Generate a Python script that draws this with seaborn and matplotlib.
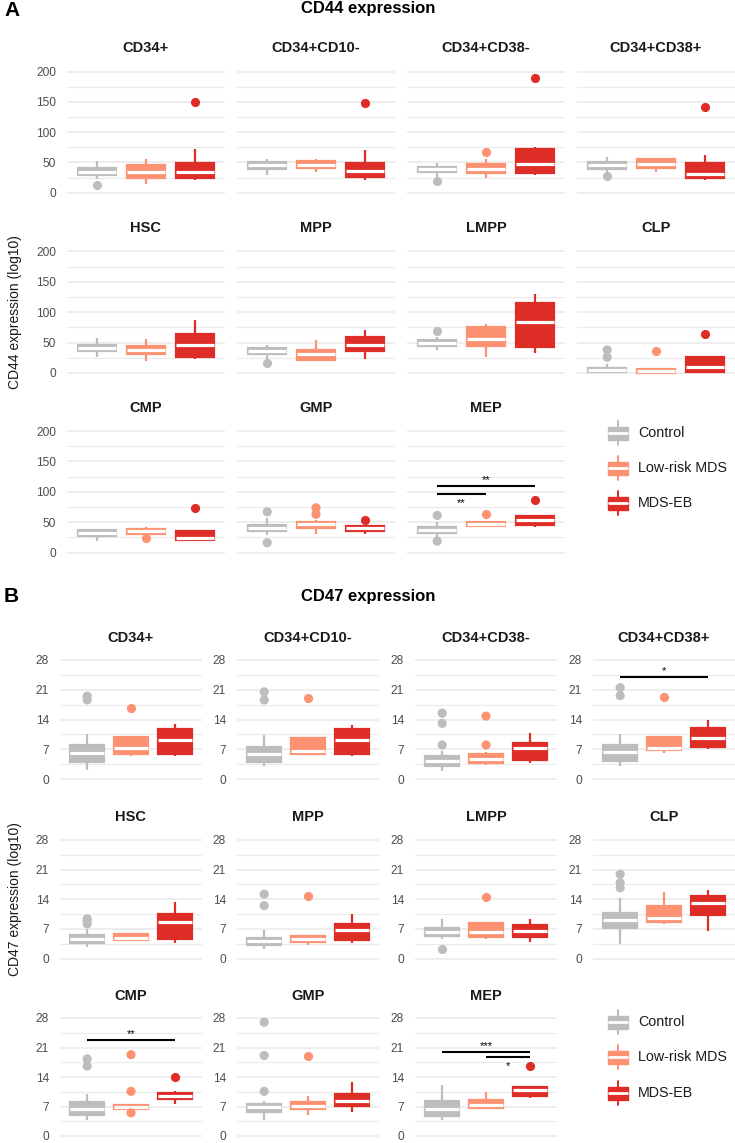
import numpy as np
import pandas as pd
import matplotlib
matplotlib.use("Agg")
import matplotlib.pyplot as plt
from matplotlib.patches import Rectangle
import seaborn as sns

cells = ["CD34+", "CD34+CD10-", "CD34+CD38-", "CD34+CD38+", "HSC", "MPP",
         "LMPP", "CLP", "CMP", "GMP", "MEP"]
groups = ["Control", "Low-risk MDS", "MDS-EB"]
colors = ["#BDBDBD", "#FC9272", "#DE2D26"]

# box summaries: [whisker low, Q1, median, Q3, whisker high], one row per cell
cd44_control = [[22, 29, 35, 41, 53], [29, 39, 45, 50, 56], [26, 33.5, 38.5, 43, 48.5],
                [35, 40, 45, 50, 59.5], [26, 35.5, 40.5, 46, 57.5], [23.5, 30.7, 36, 41.6, 46.5],
                [38, 44, 49, 53.7, 59], [0, 1.5, 4.5, 8.5, 14], [19, 27.5, 32.4, 37, 38],
                [28.6, 34.6, 40, 46, 56], [26, 32, 37, 42, 50.5]]
cd44_lowrisk = [[15, 24, 35, 46, 56], [35, 41, 46, 52, 56], [25, 32.5, 39, 47, 55],
                [33.6, 41, 47, 55, 56], [20, 32, 38, 45, 56], [20, 21, 30.7, 38, 54],
                [27, 44, 56, 75.6, 81], [0, 0.5, 3, 7, 8], [31, 31, 35, 39, 42],
                [29.7, 41, 46.7, 50.5, 53], [42, 42.8, 46.7, 50.5, 50.5]]
cd44_mdseb = [[21, 25, 35, 48.5, 72], [21, 26, 36, 48.5, 70.5], [29, 32, 47, 73, 76],
              [21, 25, 31, 48.5, 62], [23.5, 27, 45.5, 63.5, 88], [23.5, 35.6, 46.5, 59, 71],
              [33, 43, 84, 115, 130], [0, 1, 10, 27, 27], [21, 21, 24, 35, 35],
              [31, 35.7, 39.6, 43, 43], [42, 45.6, 52.7, 60, 60]]
cd44_out_control = [[12.7], [], [19], [27.5], [], [16.4], [69], [26, 38], [], [67, 16], [61, 18.7]]
cd44_out_lowrisk = [[], [], [68], [], [], [], [], [36], [24], [73.6, 63], [64]]
cd44_out_mdseb = [[150], [149], [190], [142], [], [], [], [64], [74], [53], [87]]

cd47_control = [[2.1, 4.0, 6.2, 8.0, 10.6], [3.0, 4.0, 6.0, 7.6, 10.4], [2.0, 3.0, 4.3, 5.4, 6.5],
                [3.0, 4.3, 6.3, 8.0, 10.7], [2.8, 3.6, 4.7, 5.5, 7.0], [2.3, 3.3, 4.2, 4.9, 6.8],
                [4.7, 5.3, 6.25, 7.3, 9.4], [3.5, 7.2, 9.0, 10.8, 14.2], [3.7, 4.9, 6.5, 8.1, 9.9],
                [3.9, 5.8, 6.9, 7.7, 8.3], [3.7, 4.7, 6.3, 8.3, 12.2]]
cd47_lowrisk = [[5.3, 6.0, 7.4, 9.8, 9.8], [5.6, 6.0, 6.7, 9.6, 9.6], [3.2, 3.8, 4.6, 5.9, 6.3],
                [6.2, 6.8, 7.4, 9.8, 10.1], [4.3, 4.3, 4.9, 5.7, 5.7], [3.1, 4.0, 4.6, 5.2, 5.2],
                [4.7, 5.1, 6.25, 8.4, 8.4], [8.2, 8.6, 9.6, 12.4, 15.7], [6.5, 6.5, 6.9, 7.3, 7.3],
                [5.1, 6.5, 7.1, 8.0, 9.5], [6.3, 6.7, 7.3, 8.5, 10.5]]
cd47_mdseb = [[5.3, 6.0, 9.2, 11.8, 12.9], [5.3, 6.0, 9.2, 11.7, 12.7], [3.8, 4.5, 7.2, 8.5, 10.9],
              [7.1, 7.6, 9.7, 12.1, 13.9], [3.6, 4.7, 8.6, 10.4, 13.4], [3.6, 4.3, 6.8, 8.1, 10.6],
              [3.9, 5.1, 6.6, 7.8, 9.4], [6.5, 10.2, 13.0, 14.7, 16.1], [7.5, 8.7, 9.5, 10.3, 10.6],
              [5.8, 7.1, 8.3, 9.9, 12.9], [9.1, 9.5, 10.8, 11.6, 11.6]]
cd47_out_control = [[19.5, 18.6], [20.5, 18.6], [15.5, 13.1, 8.0], [21.5, 19.6], [9.4, 8.8, 8.2],
                    [15.2, 12.5], [2.3], [19.9, 17.9, 16.7], [18.3, 16.6], [27, 19.1, 10.6], []]
cd47_out_lowrisk = [[16.8], [19.0], [14.8, 8.0], [19.2], [], [14.7], [14.6], [], [19.3, 10.6, 5.5],
                    [18.9], []]
cd47_out_mdseb = [[], [], [], [], [], [], [], [], [14.0], [], [16.6]]

# significance brackets: cell, group index from, group index to, height, label, label side
cd44_sig = [("MEP", 0, 2, 109, "**", "above"), ("MEP", 0, 1, 97, "**", "below")]
cd47_sig = [("CD34+CD38+", 0, 2, 23.9, "*", "above"), ("CMP", 0, 2, 22.7, "**", "above"),
            ("MEP", 0, 2, 19.9, "***", "above"), ("MEP", 1, 2, 18.8, "*", "below")]


def long_table(per_group):
    rows = []
    for g, per_cell in zip(groups, per_group):
        for cell, vals in zip(cells, per_cell):
            for v in vals:
                rows.append((cell, g, v))
    return pd.DataFrame(rows, columns=["cell", "group", "value"])


sns.set_theme(style="white")
plt.rcParams["font.family"] = ["Liberation Sans", "DejaVu Sans"]

W, H = 735, 1143
fig = plt.figure(figsize=(W / 100, H / 100), dpi=100)
fig.patch.set_facecolor("white")
over = fig.add_axes([0, 0, 1, 1])
over.set_xlim(0, W)
over.set_ylim(H, 0)
over.axis("off")


def add_facet(left, width, y0_px, ytop_px, vtop, ylim):
    scale = (y0_px - ytop_px) / vtop
    top = ytop_px - (ylim[1] - vtop) * scale
    bottom = y0_px + (0 - ylim[0]) * scale
    return fig.add_axes([left / W, 1 - bottom / H, width / W, (bottom - top) / H])


def draw_panel(box_df, out_df, sig, lefts, width, rows_px, vtop, ylim, major, minor,
               title_rows, shared_labels):
    for i, cell in enumerate(cells):
        r, c = divmod(i, 4)
        ax = add_facet(lefts[c], width, rows_px[r][0], rows_px[r][1], vtop, ylim)
        sub = box_df[box_df.cell == cell]
        for g, col in zip(groups, colors):
            sns.boxplot(data=sub[sub.group == g], x="group", y="value", order=groups,
                        color=col, linecolor=col, saturation=1, width=0.78, whis=(0, 100),
                        showfliers=False, showcaps=False, linewidth=1.6,
                        medianprops=dict(color="white", linewidth=2.3), ax=ax)
        pts = out_df[out_df.cell == cell]
        if len(pts):
            sns.stripplot(data=pts, x="group", y="value", hue="group", order=groups,
                          hue_order=groups, palette=colors, jitter=False, size=6.6,
                          linewidth=0, legend=False, ax=ax)
        for s_cell, g0, g1, y, lab, side in sig:
            if s_cell != cell:
                continue
            ax.plot([g0, g1], [y, y], color="black", lw=1.5, solid_capstyle="butt")
            dy = 1 if side == "above" else -3
            ax.annotate(lab, xy=((g0 + g1) / 2, y), xytext=(0, dy), textcoords="offset points",
                        ha="center", va="bottom" if side == "above" else "top",
                        fontsize=8, color="black")
        ax.set_xlim(-0.62, 2.62)
        ax.set_ylim(*ylim)
        ax.set_xticks([])
        ax.set_yticks(major)
        ax.set_yticks(minor, minor=True)
        ax.grid(True, which="major", axis="y", color="#EBEBEB", lw=1.2)
        ax.grid(True, which="minor", axis="y", color="#EBEBEB", lw=0.8)
        ax.set_axisbelow(True)
        ax.set_xlabel("")
        ax.set_ylabel("")
        for sp in ax.spines.values():
            sp.set_visible(False)
        ax.set_facecolor("none")
        ax.tick_params(axis="y", which="both", length=0, pad=8, labelsize=8.6,
                       labelcolor="#4D4D4D")
        if shared_labels and c > 0:
            ax.set_yticklabels([])
        over.text(lefts[c] + width / 2, title_rows[r], cell, ha="center", va="center",
                  fontsize=10.5, fontweight="bold", color="#1A1A1A")


def draw_legend(ys):
    for y, g, col in zip(ys, groups, colors):
        over.plot([618, 618], [y - 12, y + 12], color=col, lw=1.4)
        over.add_patch(Rectangle((608, y - 6.5), 20, 13, facecolor=col, edgecolor=col, lw=1))
        over.plot([609, 627], [y, y], color="white", lw=2)
        over.text(638, y, g, ha="left", va="center", fontsize=10.3, color="#1A1A1A")


# panel A: CD44
cd44_box = long_table([cd44_control, cd44_lowrisk, cd44_mdseb])
cd44_out = long_table([cd44_out_control, cd44_out_lowrisk, cd44_out_mdseb])
draw_panel(cd44_box, cd44_out, cd44_sig, [67, 237, 407, 577], 158,
           [(192.7, 71.7), (373, 251.5), (552.5, 431)], 200, (-10, 210),
           [0, 50, 100, 150, 200], [25, 75, 125, 175], [48, 228, 408], True)
over.text(4, 10, "A", ha="left", va="center", fontsize=15, fontweight="bold", color="black")
over.text(368, 8, "CD44 expression", ha="center", va="center", fontsize=12,
          fontweight="bold", color="black")
over.text(15, 312, "CD44 expression (log10)", rotation=90, ha="center", va="center",
          fontsize=10, color="#1A1A1A")
draw_legend([433, 468, 503])

# panel B: CD47
cd47_box = long_table([cd47_control, cd47_lowrisk, cd47_mdseb])
cd47_out = long_table([cd47_out_control, cd47_out_lowrisk, cd47_out_mdseb])
draw_panel(cd47_box, cd47_out, cd47_sig, [60, 237, 415, 593], 142,
           [(779, 660), (958.5, 840), (1136, 1018)], 28, (-1.4, 29.4),
           [0, 7, 14, 21, 28], [3.5, 10.5, 17.5, 24.5], [638, 817, 996], False)
over.text(4, 597, "B", ha="left", va="center", fontsize=15, fontweight="bold", color="black")
over.text(368, 597, "CD47 expression", ha="center", va="center", fontsize=12,
          fontweight="bold", color="black")
over.text(15, 899, "CD47 expression (log10)", rotation=90, ha="center", va="center",
          fontsize=10, color="#1A1A1A")
draw_legend([1022, 1057, 1093])

fig.savefig("out.png", dpi=100, facecolor="white")
